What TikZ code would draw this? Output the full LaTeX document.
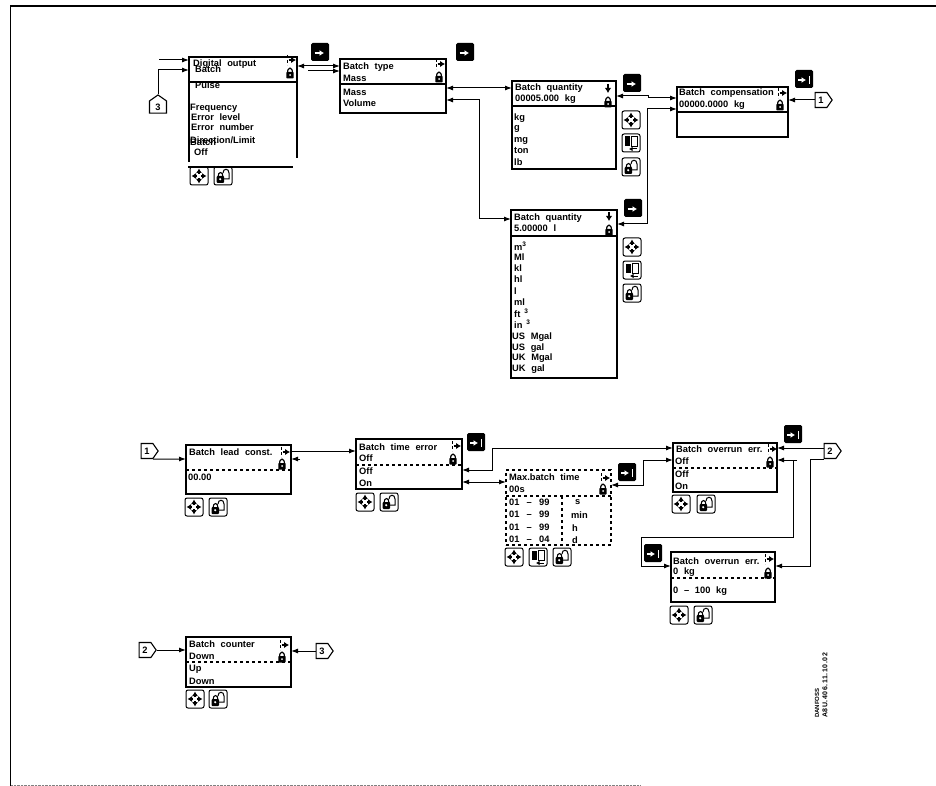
\documentclass[tikz,border=0pt]{standalone}
\usepackage{fontspec}
\setmainfont[WordSpace=2.2]{Liberation Sans}
\usetikzlibrary{arrows.meta,shapes.symbols}
\tikzset{
  menubox/.style={draw, line width=1.1pt, rectangle, anchor=north west, inner sep=0pt, outer sep=0pt},
  rowtext/.style={anchor=west, inner sep=0pt, font=\fontsize{9.3}{10}\selectfont\bfseries},
  connbox/.style={draw, line width=1.1pt, signal, signal pointer angle=110, inner sep=1.5pt,
                  minimum width=17pt, minimum height=15pt, font=\fontsize{9.3}{10}\selectfont\bfseries},
  rule/.style={line width=1.1pt},
  wire/.style={line width=1pt, -{Latex[length=7pt,width=5pt]}},
  wirex/.style={line width=1pt, {Latex[length=7pt,width=5pt]}-{Latex[length=7pt,width=5pt]}},
  lockmark/.pic={
    \draw[line width=1.2pt] (-2.5,0) .. controls (-2.5,-6.5) and (2.5,-6.5) .. (2.5,0);
    \fill[rounded corners=.8pt] (-3.6,-1) rectangle (3.6,5.5);
    \fill[white] (0,2) circle (1);
  },
  arrowmark/.pic={
    \draw[line width=.8pt, densely dashed] (-5,-5) -- (-5,5);
    \draw[line width=1.2pt, -{Latex[length=5pt,width=6.5pt]}] (-3.5,0) -- (4,0);
  },
  downmark/.pic={
    \draw[line width=1.2pt, -{Latex[length=5pt,width=6.5pt]}] (0,-5) -- (0,4);
  },
  movekey/.pic={
    \draw[line width=1pt, rounded corners=2pt] (-9,-9) rectangle (9,9);
    \foreach \a in {0,90,180,270}
      \draw[rotate=\a, line width=1.1pt, -{Latex[length=4.5pt,width=6pt]}] (2,0) -- (7.5,0);
  },
  bookkey/.pic={
    \draw[line width=1pt, rounded corners=2pt] (-9,-9) rectangle (9,9);
    \fill (-6,-6.5) rectangle (-1,3);
    \draw[line width=.9pt] (0,-6.5) rectangle (6,3);
    \draw[line width=1pt, -{Latex[length=3.5pt,width=4.5pt]}] (6,6) -- (-2,6);
  },
  lockkey/.pic={
    \draw[line width=1pt, rounded corners=2pt] (-9,-9) rectangle (9,9);
    \draw[line width=1.1pt] (-5,1) .. controls (-5,-5) and (0,-5) .. (0,1);
    \draw[line width=1pt] (0,-3) .. controls (0,-8) and (6,-8) .. (6,-3) -- (6,3) -- (1,3);
    \fill[rounded corners=1pt] (-6.5,0) rectangle (1,7);
    \fill[white] (-2.8,3.2) circle (1.2);
  },
  enterkey/.pic={
    \fill[rounded corners=1.5pt] (-9,-9) rectangle (9,9);
    \draw[white, line width=1.3pt, -{Latex[length=4.5pt,width=6pt]}] (-5.5,1) -- (4,1);
  },
  barkey/.pic={
    \fill[rounded corners=1.5pt] (-9,-9) rectangle (9,9);
    \draw[white, line width=1.3pt, -{Latex[length=4.5pt,width=6pt]}] (-6,1) -- (2,1);
    \draw[white, line width=1pt] (5,-3) -- (5,5);
  }
}
\begin{document}
\begin{tikzpicture}[x=1pt, y=-1pt]
  \useasboundingbox (0,0) rectangle (936,786);
  \draw[line width=1.6pt] (10.5,786) -- (10.5,6) -- (936,6);
  \draw[line width=.4pt, densely dotted, gray] (11,785) -- (640,785);

  \node (digital) [menubox, draw=none, minimum width=108pt, minimum height=110pt] at (189,57) {};
  \node (typebox) [menubox, minimum width=106pt, minimum height=54pt] at (340,59) {};
  \node (qtymass) [menubox, minimum width=104pt, minimum height=88pt] at (512,81) {};
  \node (compens) [menubox, minimum width=111pt, minimum height=50pt] at (677,87) {};
  \node (qtyvol)  [menubox, minimum width=106pt, minimum height=168pt] at (511,210) {};
  \node (lead)    [menubox, minimum width=105pt, minimum height=49pt] at (186,445) {};
  \node (timeerr) [menubox, minimum width=106pt, minimum height=50pt] at (356,439) {};
  \node (maxtime) [menubox, dashed, minimum width=105pt, minimum height=75pt] at (506,470) {};
  \node (overone) [menubox, minimum width=104pt, minimum height=49pt] at (673,443) {};
  \node (overtwo) [menubox, minimum width=104pt, minimum height=50pt] at (671,552) {};
  \node (counter) [menubox, minimum width=105pt, minimum height=50pt] at (186,637) {};

  \draw[rule] (digital.south west) ++(0,-5) |- (297,57) -- (297,158);
  \draw[rule] (188,167) -- (293,167);
  \draw[rule] ([yshift=-25pt]digital.north west) -- ([yshift=-25pt]digital.north east);
  \draw[rule] ([yshift=-25pt]typebox.north west) -- ([yshift=-25pt]typebox.north east);
  \draw[rule] ([yshift=-25pt]qtymass.north west) -- ([yshift=-25pt]qtymass.north east);
  \draw[rule] ([yshift=-25pt]compens.north west) -- ([yshift=-25pt]compens.north east);
  \draw[rule] ([yshift=-26pt]qtyvol.north west) -- ([yshift=-26pt]qtyvol.north east);
  \draw[rule, dashed] ([yshift=-25pt]lead.north west) -- ([yshift=-25pt]lead.north east);
  \draw[rule, dashed] ([yshift=-26pt]timeerr.north west) -- ([yshift=-26pt]timeerr.north east);
  \draw[rule, dashed] ([yshift=-26pt]maxtime.north west) -- ([yshift=-26pt]maxtime.north east);
  \draw[rule, dashed] ([xshift=56pt,yshift=-26pt]maxtime.north west) -- ([xshift=56pt]maxtime.south west);
  \draw[rule, dashed] ([yshift=-25pt]overone.north west) -- ([yshift=-25pt]overone.north east);
  \draw[rule, dashed] ([yshift=-26pt]overtwo.north west) -- ([yshift=-26pt]overtwo.north east);
  \draw[rule, dashed] ([yshift=-25pt]counter.north west) -- ([yshift=-25pt]counter.north east);

  \node (t01) [rowtext] at (193,64)  {Digital output};
  \node (t02) [rowtext] at (195,69)  {Batch};
  \node (t03) [rowtext] at (195,85)  {Pulse};
  \node (t04) [rowtext] at (190,108) {Frequency};
  \node (t05) [rowtext] at (191,117) {Error level};
  \node (t06) [rowtext] at (191,127) {Error number};
  \node (t07) [rowtext] at (190,140) {Direction/Limit};
  \node (t08) [rowtext] at (190,142) {Batch};
  \node (t09) [rowtext] at (194,152) {Off};

  \node (t10) [rowtext] at (343,67)  {Batch type};
  \node (t11) [rowtext] at (343,78)  {Mass};
  \node (t12) [rowtext] at (343,92)  {Mass};
  \node (t13) [rowtext] at (343,103) {Volume};

  \node (t14) [rowtext] at (515,88)  {Batch quantity};
  \node (t15) [rowtext] at (515,99)  {00005.000 kg};
  \node (t16) [rowtext] at (514,118) {kg};
  \node (t17) [rowtext] at (514,129) {g};
  \node (t18) [rowtext] at (514,141) {mg};
  \node (t19) [rowtext] at (514,151) {ton};
  \node (t20) [rowtext] at (514,162) {lb};

  \node (t21) [rowtext] at (679,93)  {Batch compensation};
  \node (t22) [rowtext] at (679,105) {00000.0000 kg};

  \node (t23) [rowtext] at (514,218) {Batch quantity};
  \node (t24) [rowtext] at (514,228) {5.00000 l};
  \node (t25) [rowtext] at (514,246) {m\textsuperscript{3}};
  \node (t26) [rowtext] at (514,257) {Ml};
  \node (t27) [rowtext] at (514,268) {kl};
  \node (t28) [rowtext] at (514,279) {hl};
  \node (t29) [rowtext] at (514,291) {l};
  \node (t30) [rowtext] at (514,302) {ml};
  \node (t31) [rowtext] at (514,313) {ft\textsuperscript{ 3}};
  \node (t32) [rowtext] at (514,324) {in\textsuperscript{ 3}};
  \node (t33) [rowtext] at (512,337) {US Mgal};
  \node (t34) [rowtext] at (512,348) {US gal};
  \node (t35) [rowtext] at (512,358) {UK Mgal};
  \node (t36) [rowtext] at (512,369) {UK gal};

  \node (t37) [rowtext] at (189,452) {Batch lead const.};
  \node (t38) [rowtext] at (188,477) {00.00};

  \node (t39) [rowtext] at (359,447) {Batch time error};
  \node (t40) [rowtext] at (359,458) {Off};
  \node (t41) [rowtext] at (359,471) {Off};
  \node (t42) [rowtext] at (359,483) {On};

  \node (t43) [rowtext] at (509,477) {Max.batch time};
  \node (t44) [rowtext] at (509,489) {00s};
  \node (t45) [rowtext] at (509,502) {01\hspace{1.5pt} -- \hspace{1.5pt}99};
  \node (t46) [rowtext] at (509,514) {01\hspace{1.5pt} -- \hspace{1.5pt}99};
  \node (t47) [rowtext] at (509,527) {01\hspace{1.5pt} -- \hspace{1.5pt}99};
  \node (t48) [rowtext] at (509,539) {01\hspace{1.5pt} -- \hspace{1.5pt}04};
  \node (t49) [rowtext] at (575,502) {s};
  \node (t50) [rowtext] at (571,515) {min};
  \node (t51) [rowtext] at (572,528) {h};
  \node (t52) [rowtext] at (572,540) {d};

  \node (t53) [rowtext] at (676,449) {Batch overrun err.};
  \node (t54) [rowtext] at (675,461) {Off};
  \node (t55) [rowtext] at (675,474) {Off};
  \node (t56) [rowtext] at (675,486) {On};

  \node (t57) [rowtext] at (673,561) {Batch overrun err.};
  \node (t58) [rowtext] at (673,572) {0 kg};
  \node (t59) [rowtext] at (673,591) {0 -- 100 kg};

  \node (t60) [rowtext] at (189,644) {Batch counter};
  \node (t61) [rowtext] at (189,656) {Down};
  \node (t62) [rowtext] at (189,669) {Up};
  \node (t63) [rowtext] at (189,681) {Down};

  \node (maker) [rowtext, font=\fontsize{6}{6}\selectfont\bfseries, rotate=90] at (817,718) {DANFOSS};
  \node (docno) [rowtext, font=\fontsize{7}{7}\selectfont\bfseries\addfontfeature{LetterSpace=8}, rotate=90] at (825,718) {A8U.406.11.10.02};

  \pic at (292,60)  {arrowmark};
  \pic at (290,73)  {lockmark};
  \pic at (441,64)  {arrowmark};
  \pic at (439,77)  {lockmark};
  \pic at (608,89)  {downmark};
  \pic at (608,102) {lockmark};
  \pic at (783,93)  {arrowmark};
  \pic at (780,105) {lockmark};
  \pic at (609,217) {downmark};
  \pic at (609,230) {lockmark};
  \pic at (286,452) {arrowmark};
  \pic at (282,464) {lockmark};
  \pic at (457,446) {arrowmark};
  \pic at (453,459) {lockmark};
  \pic at (606,478) {arrowmark};
  \pic at (603,489) {lockmark};
  \pic at (773,449) {arrowmark};
  \pic at (770,462) {lockmark};
  \pic at (770,559) {arrowmark};
  \pic at (768,573) {lockmark};
  \pic at (285,645) {arrowmark};
  \pic at (282,657) {lockmark};

  \pic at (320,52)  {enterkey};
  \pic at (465,52)  {enterkey};
  \pic at (632,83)  {enterkey};
  \pic at (633,208) {enterkey};
  \pic at (804,79)  {barkey};
  \pic at (476,442) {barkey};
  \pic at (627,472) {barkey};
  \pic at (793,434) {barkey};
  \pic at (653,553) {barkey};

  \foreach \x/\y in {199/176, 631/120, 632/247, 194/507, 365/502, 514/557, 681/504, 679/615, 195/699}
    \pic at (\x,\y) {movekey};
  \foreach \x/\y in {631/143, 632/270, 538/557}
    \pic at (\x,\y) {bookkey};
  \foreach \x/\y in {223/176, 631/167, 632/293, 218/507, 389/502, 562/557, 706/504, 703/615, 218/699}
    \pic at (\x,\y) {lockkey};

  \node (linkc)  [connbox, signal to=north] at (158,107) {3};
  \node (linka)  [connbox, signal to=east]  at (821,100) {1};
  \node (linkaa) [connbox, signal to=east]  at (147,451) {1};
  \node (linkb)  [connbox, signal to=east]  at (830,451) {2};
  \node (linkbb) [connbox, signal to=east]  at (145,650) {2};
  \node (linkcc) [connbox, signal to=east]  at (322,651) {3};

  \coordinate (inlet)  at (159,60);
  \coordinate (stubt)  at (308,71);
  \coordinate (stubl)  at (300,459);
  \coordinate (stubn)  at (797,460);

  \draw[wire]  (inlet) -- ([yshift=-3pt]digital.north west);
  \draw[wire]  (linkc.north) |- ([yshift=-13pt]digital.north west);
  \draw[wirex] ([yshift=-7pt]typebox.north west) -- ([yshift=-9pt]digital.north east);
  \draw[wire]  (stubt) -- ([yshift=-12pt]typebox.north west);
  \draw[wirex] ([yshift=-29pt]typebox.north east) -- ([yshift=-7pt]qtymass.north west);
  \draw[wirex] ([yshift=-41pt]typebox.north east) -- ++(33,0) |- ([yshift=-9pt]qtyvol.north west);
  \draw[wirex] ([yshift=-15pt]qtymass.north east) -- ++(32,0) -- ++(0,2) -- ([yshift=-11pt]compens.north west);
  \draw[wirex] ([yshift=-22pt]compens.north west) -- ++(-30,0) |- ([yshift=-14pt]qtyvol.north east);
  \draw[wire]  (linka.west) -- (compens.east |- linka.west);

  \draw[wire]  (linkaa.south east) -- ([yshift=-14pt]lead.north west);
  \draw[wire]  ([yshift=-6pt]lead.north east) -- ([yshift=-12pt]timeerr.north west);
  \draw[wire]  (stubl) -- ([yshift=-14pt]lead.north east);
  \draw[wirex] ([yshift=-31pt]timeerr.north east) -- ++(30,0) |- ([yshift=-5pt]overone.north west);
  \draw[wirex] ([yshift=-43pt]timeerr.north east) -- ([yshift=-12pt]maxtime.north west);
  \draw[wirex] ([yshift=-15pt]maxtime.north east) -- ++(32,0) |- ([yshift=-17pt]overone.north west);
  \draw[wire]  ([yshift=3pt]linkb.west) -- ([yshift=-5pt]overone.north east);
  \draw[wire]  (stubn) -- ([yshift=-17pt]overone.north east);
  \draw[wire]  ([xshift=-4pt]stubn) -- ++(0,77) -- ++(-152,0) |- ([yshift=-14pt]overtwo.north west);
  \draw[wire]  (linkb.south west) -- ++(-13,0) |- ([yshift=-14pt]overtwo.north east);

  \draw[wire]  (linkbb.east) -- ([yshift=-13pt]counter.north west);
  \draw[wire]  (linkcc.west) -- ([yshift=-14pt]counter.north east);
\end{tikzpicture}
\end{document}
